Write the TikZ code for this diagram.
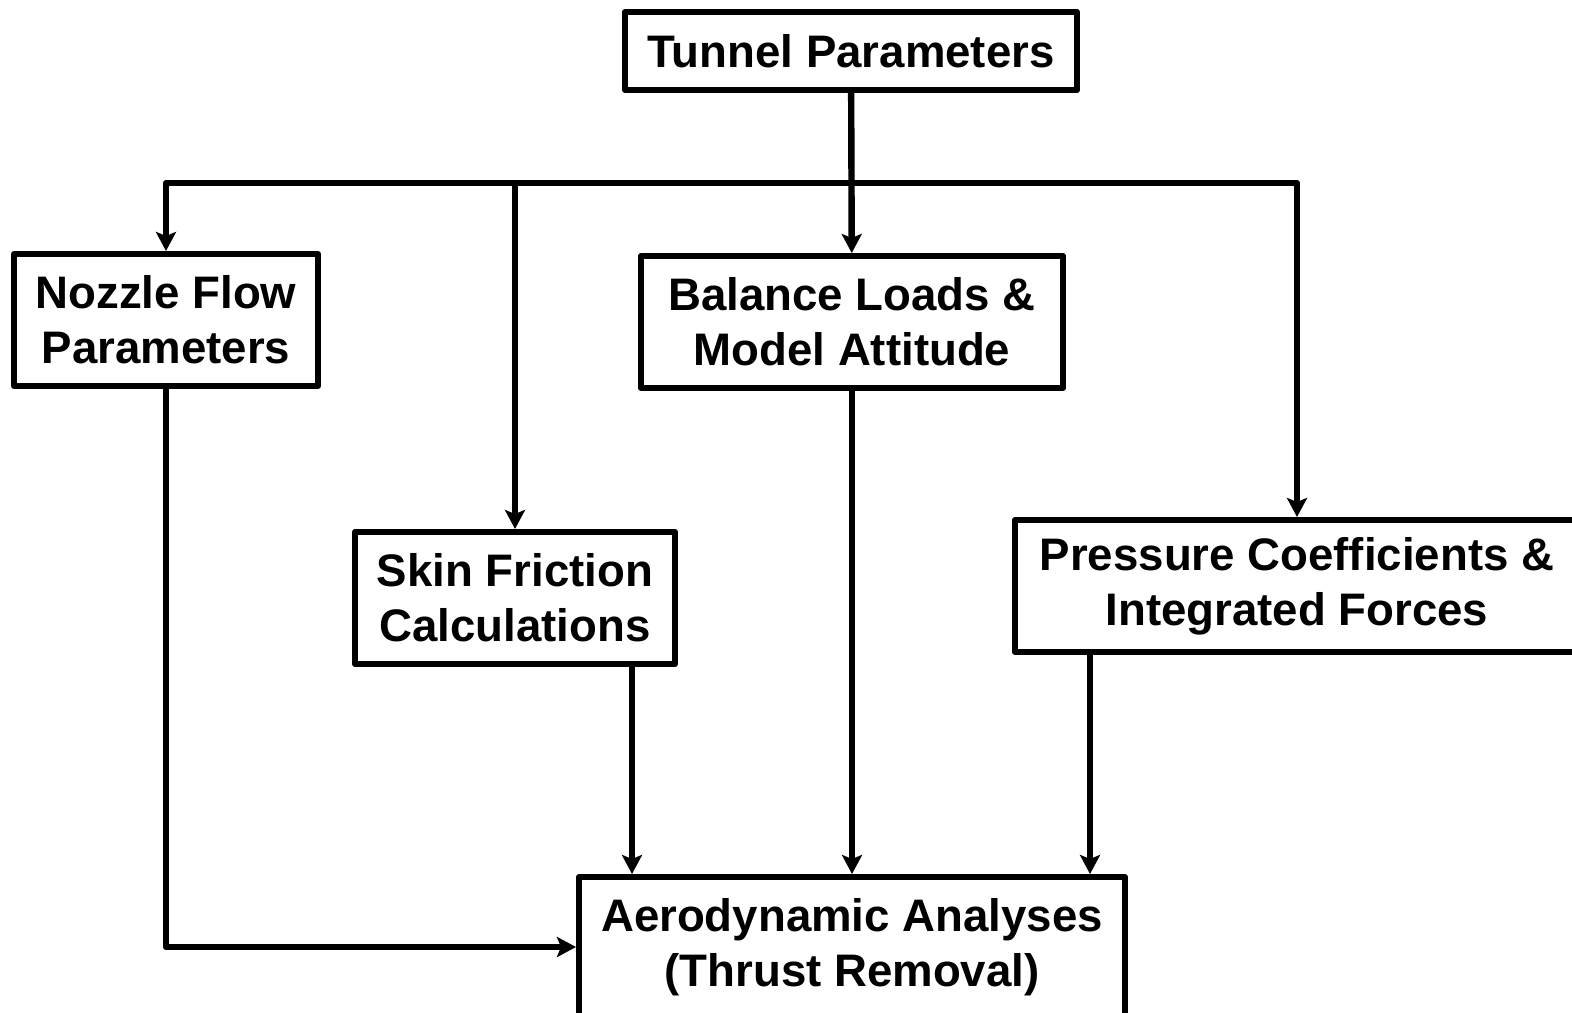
\documentclass[tikz,border=0pt]{standalone}
\usepackage{fontspec}
\setmainfont{Liberation Sans}
\usetikzlibrary{arrows.meta,calc}
\tikzset{
  >={Stealth[length=9.5pt,width=10pt,inset=2pt]},
  bx/.style={draw,line width=3pt,align=center,inner sep=0pt,
    font=\fontsize{22.8}{27.5}\selectfont\bfseries},
  every picture/.style={line width=3.2pt,line join=round},
}
\begin{document}
\begin{tikzpicture}[x=0.5pt,y=-0.5pt]
\useasboundingbox (0,0) rectangle (1572,1012);
\node[bx,minimum width=226pt,minimum height=39pt] (tun) at (851,51) {Tunnel Parameters};
\node[bx,minimum width=152pt,minimum height=66pt] (noz) at (166,320) {Nozzle Flow\\Parameters};
\node[bx,minimum width=211pt,minimum height=66pt] (bal) at (852,322) {Balance Loads \&\\Model Attitude};
\node[bx,minimum width=160pt,minimum height=66pt] (skin) at (515,598) {Skin Friction\\Calculations};
\node[bx,minimum width=282pt,minimum height=66pt] (pc) at (1297,586) {Pressure Coefficients \&\\Integrated Forces};
\node[bx,minimum width=273pt,minimum height=70pt] (aero) at (852,947) {Aerodynamic Analyses\\(Thrust Removal)};
\coordinate (bus) at (852,183);
\draw[<->] (noz) |- (bus) -| (pc);
\draw[->] (tun) -- (bal);
\draw[->] (bus -| skin) -- (skin);
\draw[->] ([xshift=-23pt]skin.south east) coordinate (s1) -- (s1 |- aero.north);
\draw[->] (bal) -- (aero);
\draw[->] ([xshift=39pt]pc.south west) coordinate (p1) -- (p1 |- aero.north);
\draw[->] (noz) |- (aero);
\end{tikzpicture}
\end{document}
